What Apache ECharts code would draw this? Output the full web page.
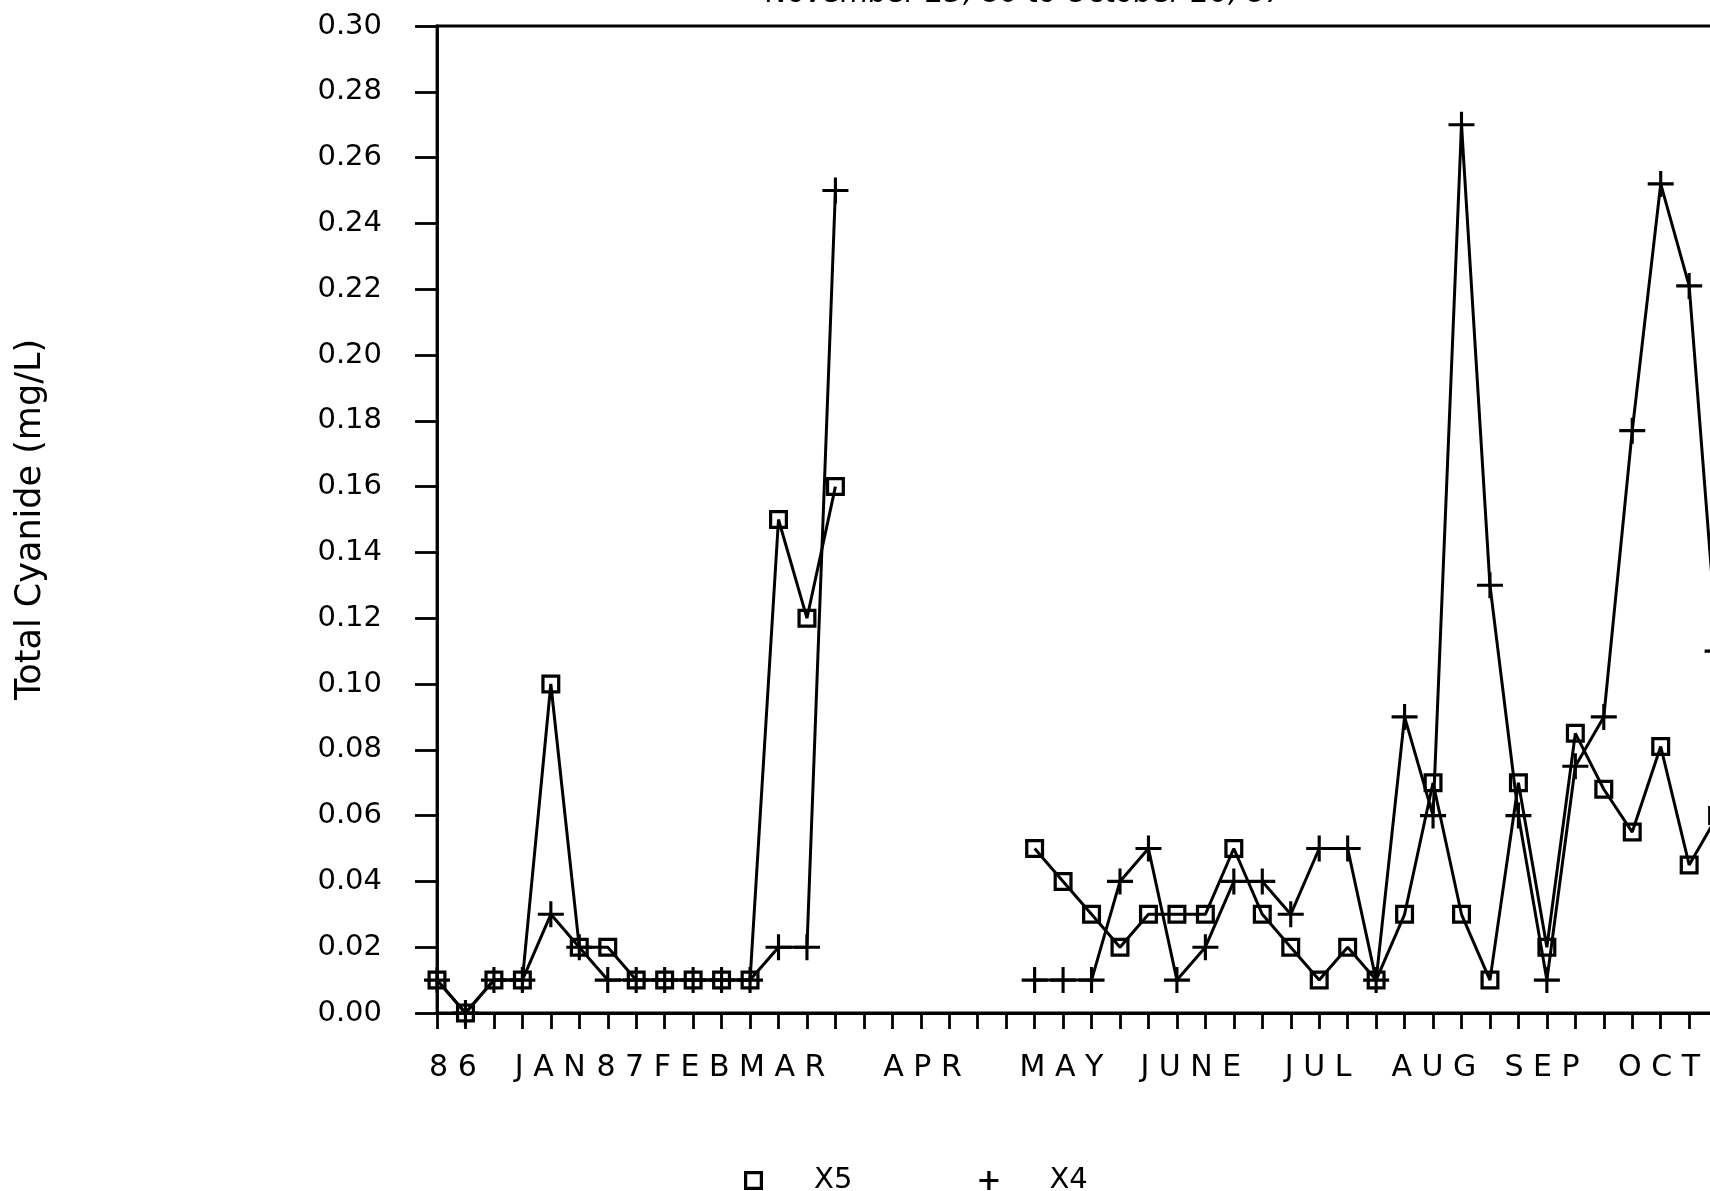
<!DOCTYPE html>
<html>
<head>
<meta charset="utf-8">
<script src="https://cdn.jsdelivr.net/npm/echarts@6/dist/echarts.min.js"></script>
<style>
  html, body { margin: 0; padding: 0; background: #fff; overflow: hidden; width: 1710px; height: 1191px; }
  #chart { position: absolute; left: 0; top: 0; width: 1900px; height: 1191px; }
</style>
</head>
<body>
<div id="chart"></div>
<script>
// Week index (weekly samples starting November 25, 1986)
const weekIndex = [0,1,2,3,4,5,6,7,8,9,10,11,12,13,14,15,16,17,18,19,20,21,22,23,24,25,26,27,28,29,30,31,32,33,34,35,36,37,38,39,40,41,42,43,44,45];

// Total cyanide, mg/L (null = no sample)
const seriesX5 = [0.01,0.00,0.01,0.01,0.10,0.02,0.02,0.01,0.01,0.01,0.01,0.01,0.15,0.12,0.16,
                  null,null,null,null,null,null,
                  0.05,0.04,0.03,0.02,0.03,0.03,0.03,0.05,0.03,0.02,0.01,0.02,0.01,0.03,0.07,0.03,0.01,0.07,0.02,0.085,0.068,0.055,0.081,0.045,0.06];
const seriesX4 = [0.01,0.00,0.01,0.01,0.03,0.02,0.01,0.01,0.01,0.01,0.01,0.01,0.02,0.02,0.25,
                  null,null,null,null,null,null,
                  0.01,0.01,0.01,0.04,0.05,0.01,0.02,0.04,0.04,0.03,0.05,0.05,0.01,0.09,0.06,0.27,0.13,0.06,0.01,0.075,0.09,0.177,0.252,0.221,0.11];

// Weekly tick marks on the time axis
const tickWeeks = [0,1,2,3,4,5,6,7,8,9,10,11,12,13,14,15,16,17,18,19,20,21,22,23,24,25,26,27,28,29,30,31,32,33,34,35,36,37,38,39,40,41,42,43,44,45,46,47,48];
// Month / year labels and where they sit along the week axis
const monthLabels = ['86','JAN','87','FEB','MAR','APR','MAY','JUNE','JUL','AUG','SEP','OCT'];
const monthLabelWeeks = [0.56, 3.98, 6.44, 8.95, 12.13, 17.06, 21.94, 26.49, 30.96, 35.03, 38.83, 42.94];

const seriesNames = ['X5', 'X4'];
const titleText = 'November 25, 86 to October 26, 87';
const yTitle = 'Total Cyanide (mg/L)';

const squareSym = 'path://M0,0H20V20H0Z M3.4,3.4V16.6H16.6V3.4Z';
const plusSym = 'path://M0,8.8H20V11.2H0Z M8.8,0H11.2V20H8.8Z';
const plusLegend = 'path://M0,8.3H20V11.7H0Z M8.3,0H11.7V20H8.3Z';

function pairs(vals) {
  return weekIndex.map((w, i) => [w, vals[i] === null ? '-' : vals[i]]);
}
function spaced(s) { return s.split('').join(' '); }

const FONT = 'DejaVu Sans';
const chart = echarts.init(document.getElementById('chart'), null, { renderer: 'canvas' });
chart.setOption({
  animation: false,
  backgroundColor: '#fff',
  title: {
    text: titleText,
    left: 766, top: -20, padding: 0,
    textStyle: { fontFamily: FONT, fontSize: 29, fontStyle: 'italic', fontWeight: 'normal', color: '#000' }
  },
  legend: {
    data: [{ name: seriesNames[0], icon: squareSym }, { name: seriesNames[1], icon: plusLegend }],
    left: 744, top: 1166, padding: 0,
    itemWidth: 19, itemHeight: 19, itemGap: 127,
    selectedMode: false,
    formatter: n => '     ' + n,
    textStyle: { fontFamily: FONT, fontSize: 29, color: '#000' }
  },
  grid: {
    left: 437, top: 26, right: 97, bottom: 178,
    show: true, borderColor: '#000', borderWidth: 2.8, backgroundColor: 'transparent'
  },
  xAxis: {
    type: 'value', min: 0, max: 48,
    axisLine: { show: true, lineStyle: { color: '#000', width: 2.8 } },
    axisTick: { show: true, length: 16, lineStyle: { color: '#000', width: 2.8 }, customValues: tickWeeks },
    axisLabel: {
      customValues: monthLabelWeeks,
      formatter: function (v) {
        let best = -1, bd = 1e9;
        monthLabelWeeks.forEach((p, i) => { const d = Math.abs(p - v); if (d < bd) { bd = d; best = i; } });
        return bd < 0.01 ? spaced(monthLabels[best]) : '';
      },
      fontFamily: FONT, fontSize: 30, color: '#000', margin: 40
    },
    splitLine: { show: false }
  },
  yAxis: {
    type: 'value', min: 0, max: 0.30, interval: 0.02,
    name: yTitle, nameLocation: 'middle', nameGap: 389,
    nameTextStyle: { fontFamily: FONT, fontSize: 35, color: '#000' },
    axisLine: { show: true, lineStyle: { color: '#000', width: 2.8 } },
    axisTick: { show: true, length: 22, lineStyle: { color: '#000', width: 2.8 } },
    axisLabel: { formatter: v => v.toFixed(2), fontFamily: FONT, fontSize: 29, color: '#000', margin: 55 },
    splitLine: { show: false }
  },
  series: [
    {
      name: seriesNames[0], type: 'line', data: pairs(seriesX5),
      symbol: squareSym, symbolSize: 19, showAllSymbol: true, connectNulls: false,
      lineStyle: { color: '#000', width: 3 },
      itemStyle: { color: '#000', borderWidth: 0 }
    },
    {
      name: seriesNames[1], type: 'line', data: pairs(seriesX4),
      symbol: plusSym, symbolSize: 26, showAllSymbol: true, connectNulls: false,
      lineStyle: { color: '#000', width: 3 },
      itemStyle: { color: '#000', borderWidth: 0 }
    }
  ]
});
</script>
</body>
</html>
